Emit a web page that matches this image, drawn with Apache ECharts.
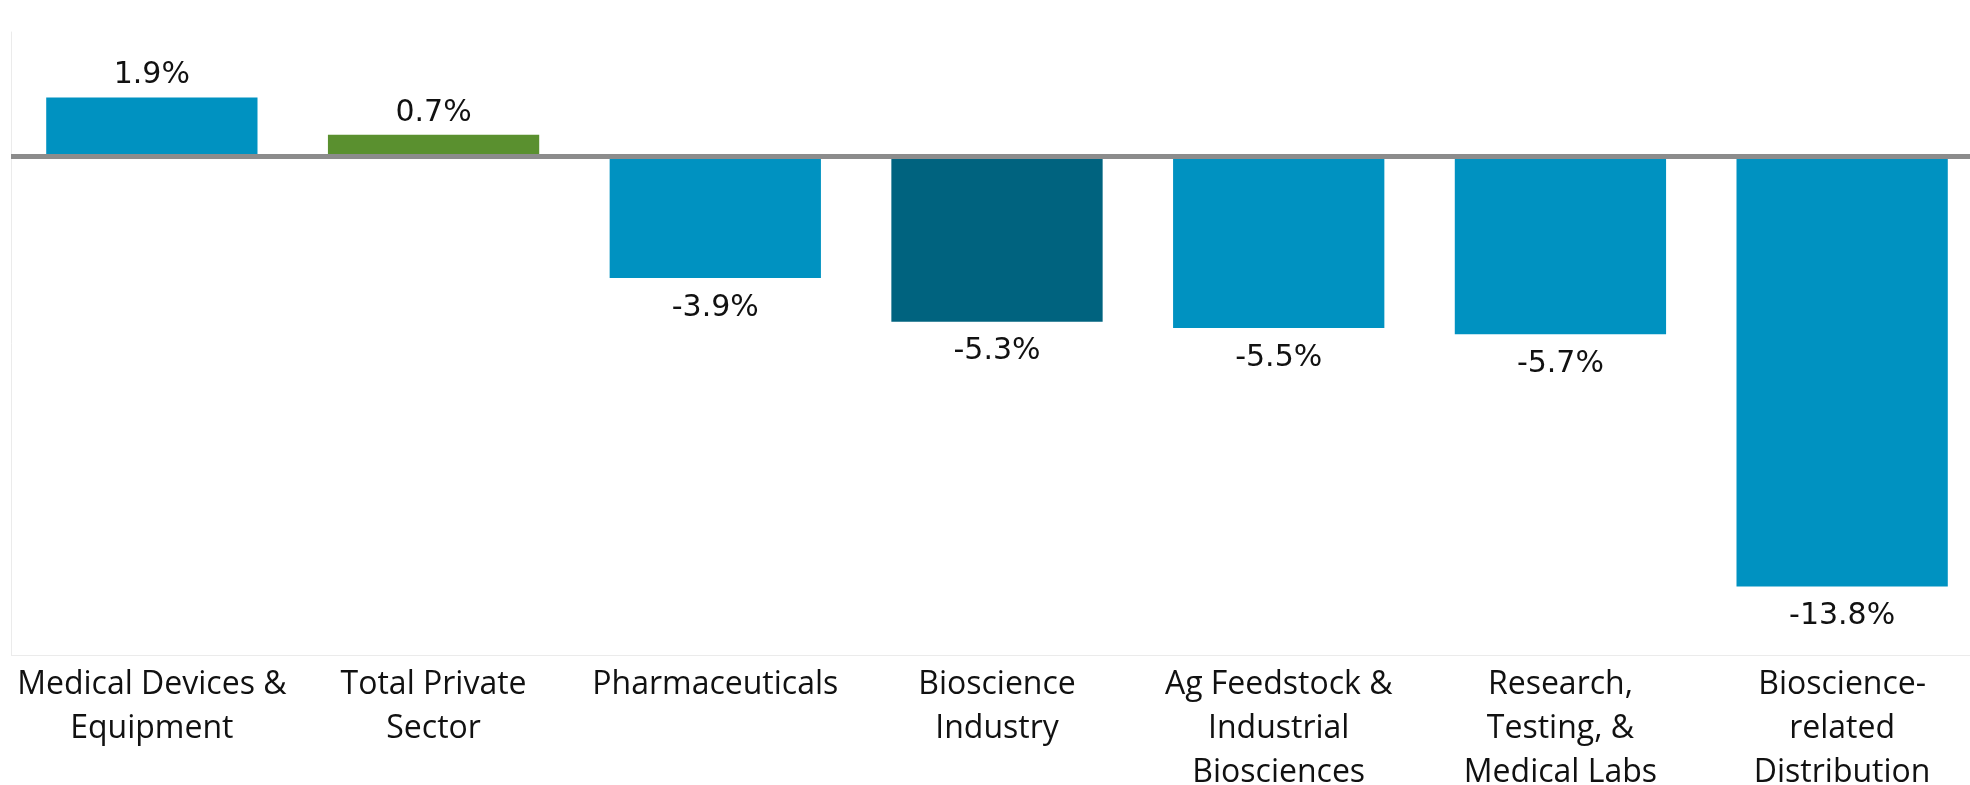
<!DOCTYPE html>
<html>
<head>
<meta charset="utf-8">
<script src="https://cdn.jsdelivr.net/npm/echarts@6/dist/echarts.min.js"></script>
<style>
  html, body { margin: 0; padding: 0; background: #fff; overflow: hidden; }
  /* plot runs a little past the right edge of the window, like the source */
  #chart { width: 1984px; height: 785px; }
</style>
</head>
<body>
<div id="chart"></div>
<script>
// categories and percent change
const categories = [
  'Medical Devices &\nEquipment',
  'Total Private\nSector',
  'Pharmaceuticals',
  'Bioscience\nIndustry',
  'Ag Feedstock &\nIndustrial\nBiosciences',
  'Research,\nTesting, &\nMedical Labs',
  'Bioscience-\nrelated\nDistribution'
]
const values = [1.9, 0.7, -3.9, -5.3, -5.5, -5.7, -13.8]
const barColors = ['#0092c1', '#5a902f', '#0092c1', '#00637f', '#0092c1', '#0092c1', '#0092c1']

const catFont = '"Open Sans", Lato, sans-serif'
const valFont = '"DejaVu Sans", sans-serif'

const chart = echarts.init(document.getElementById('chart'))
chart.setOption({
  animation: false,
  // labels are allowed to run off the bottom, so keep the grid where it is
  grid: { left: 11, right: 1, top: 32, bottom: 130, outerBoundsMode: 'none' },
  xAxis: {
    type: 'category',
    data: categories,
    axisLine: { show: false },
    axisTick: { show: false },
    axisLabel: {
      interval: 0,
      color: '#111',
      fontFamily: catFont,
      fontSize: 32,
      lineHeight: 44,
      margin: 8,
      align: 'center'
    }
  },
  yAxis: {
    type: 'value',
    min: -16,
    max: 4,
    interval: 4,
    axisLabel: { show: false },
    axisTick: { show: false },
    axisLine: { show: true, lineStyle: { color: '#ebebeb', width: 1 } },
    splitLine: { show: false }
  },
  series: [
    {
      type: 'bar',
      barCategoryGap: '25%',
      data: values.map((v, i) => ({
        value: v,
        itemStyle: { color: barColors[i] },
        label: {
          position: v >= 0 ? 'top' : 'bottom',
          distance: v >= 0 ? 7 : 15
        }
      })),
      label: {
        show: true,
        color: '#111',
        fontFamily: valFont,
        fontSize: 30,
        lineHeight: 30,
        formatter: p => p.value.toFixed(1) + '%'
      },
      markLine: {
        silent: true,
        symbol: 'none',
        label: { show: false },
        lineStyle: { color: '#8c8c8c', width: 5, type: 'solid' },
        data: [{ yAxis: 0 }]
      }
    },
    {
      // faint bottom axis line
      type: 'line',
      data: [],
      markLine: {
        silent: true,
        symbol: 'none',
        label: { show: false },
        lineStyle: { color: '#ebebeb', width: 1, type: 'solid' },
        data: [{ yAxis: -16 }]
      }
    }
  ]
})
</script>
</body>
</html>
